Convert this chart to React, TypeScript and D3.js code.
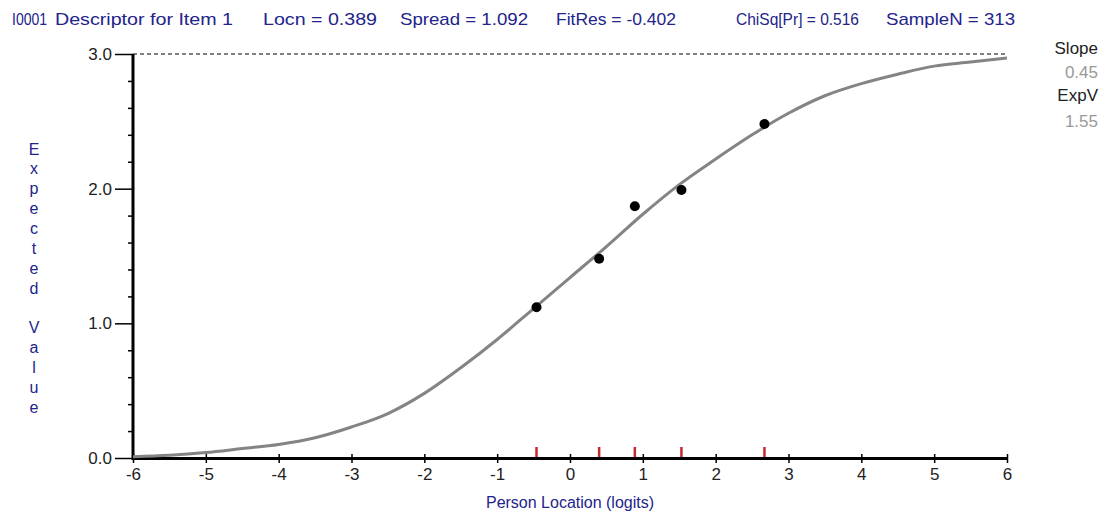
import { useRef, useEffect } from "react";
import * as d3 from "d3";

// header items across the top
const headerItems = [
  "I0001",
  "Descriptor for Item 1",
  "Locn = 0.389",
  "Spread = 1.092",
  "FitRes = -0.402",
  "ChiSq[Pr] = 0.516",
  "SampleN = 313",
];

// expected value curve
const curveLogits = [-6, -5.5, -5, -4.5, -4, -3.5, -3, -2.5, -2, -1.5, -1, -0.5, 0, 0.5, 1, 1.5, 2, 2.5, 3, 3.5, 4, 4.5, 5, 5.5, 6];
const curveExpected = [0.01, 0.02, 0.04, 0.07, 0.1, 0.15, 0.23, 0.33, 0.48, 0.67, 0.88, 1.11, 1.34, 1.57, 1.81, 2.03, 2.22, 2.4, 2.56, 2.69, 2.78, 2.85, 2.91, 2.94, 2.97];

// class intervals (mean location, observed mean)
const classLocations = [-0.46, 0.4, 0.89, 1.53, 2.67];
const classObserved = [1.12, 1.48, 1.87, 1.99, 2.48];

const xTicks = [-6, -5, -4, -3, -2, -1, 0, 1, 2, 3, 4, 5, 6];
const yMajorTicks = [0, 1, 2, 3];
const yMinorTicks = [0.2, 0.4, 0.6, 0.8, 1.2, 1.4, 1.6, 1.8, 2.2, 2.4, 2.6, 2.8];

const sideLabels = ["Slope", "0.45", "ExpV", "1.55"];
const yTitle = "Expected Value";
const xTitle = "Person Location (logits)";

const W = 1109;
const H = 516;
const BLUE = "#23238c";
const FONT = "Arial, 'Liberation Sans', sans-serif";

// where each header item sits [x0, x1]
const headerPos: [number, number][] = [
  [12, 47],
  [55, 233],
  [263, 377],
  [400, 528],
  [556, 676],
  [736, 859],
  [886, 1015],
];

export default function App() {
  const svgRef = useRef<SVGSVGElement>(null);

  useEffect(() => {
    if (!svgRef.current) return;
    const svg = d3.select(svgRef.current);
    svg.selectAll("*").remove();

    const x = d3.scaleLinear().domain([-6, 6]).range([133, 1007]);
    const y = d3.scaleLinear().domain([0, 3]).range([458, 54]);

    svg.append("rect").attr("width", W).attr("height", H).attr("fill", "#fff");

    // header
    svg
      .append("g")
      .selectAll("text")
      .data(headerItems)
      .join("text")
      .attr("x", (d, i) => headerPos[i][0])
      .attr("y", 25)
      .attr("textLength", (d, i) => headerPos[i][1] - headerPos[i][0])
      .attr("lengthAdjust", "spacingAndGlyphs")
      .attr("fill", BLUE)
      .style("font", `17px ${FONT}`)
      .text((d) => d);

    // dashed max line
    svg
      .append("line")
      .attr("x1", x(-6))
      .attr("x2", x(6))
      .attr("y1", y(3))
      .attr("y2", y(3))
      .attr("stroke", "#000")
      .attr("stroke-width", 1)
      .attr("stroke-dasharray", "4,3");

    // y axis minor + major
    const yMinor = svg
      .append("g")
      .attr("transform", `translate(${x(-6)},0)`)
      .call(d3.axisLeft(y).tickValues(yMinorTicks).tickSize(5).tickFormat(() => ""));
    yMinor.select(".domain").remove();
    yMinor.selectAll("line").attr("stroke", "#000").attr("stroke-width", 1.5);

    const yMajor = svg
      .append("g")
      .attr("transform", `translate(${x(-6)},0)`)
      .call(
        d3
          .axisLeft(y)
          .tickValues(yMajorTicks)
          .tickSize(18)
          .tickSizeOuter(0)
          .tickPadding(3)
          .tickFormat((d) => d3.format(".1f")(d as number))
      );
    yMajor.select(".domain").attr("stroke", "#000").attr("stroke-width", 3).attr("d", `M0,${y(3)}V${y(0) + 2}`);
    yMajor.selectAll("line").attr("stroke", "#000").attr("stroke-width", 1.5);
    yMajor.selectAll("text").attr("fill", "#222").style("font", `17px ${FONT}`);

    // x axis
    const xAxis = svg
      .append("g")
      .attr("transform", `translate(0,${y(0)})`)
      .call(
        d3
          .axisBottom(x)
          .tickValues(xTicks)
          .tickSize(4)
          .tickSizeOuter(0)
          .tickFormat((d) => String(d))
      );
    xAxis.select(".domain").attr("stroke", "#000").attr("stroke-width", 3);
    xAxis.selectAll("line").attr("stroke", "#000").attr("stroke-width", 1.5).attr("y1", -4).attr("y2", 5);
    xAxis
      .selectAll("text")
      .attr("y", 10)
      .attr("fill", "#222")
      .style("font", `17px ${FONT}`);

    // red class-interval ticks
    svg
      .append("g")
      .selectAll("line")
      .data(classLocations)
      .join("line")
      .attr("x1", (d) => x(d))
      .attr("x2", (d) => x(d))
      .attr("y1", y(0) - 11)
      .attr("y2", y(0) - 1)
      .attr("stroke", "#c8282d")
      .attr("stroke-width", 2.5);

    // expected value curve
    const line = d3
      .line<number>()
      .x((d, i) => x(curveLogits[i]))
      .y((d) => y(d))
      .curve(d3.curveMonotoneX);
    svg
      .append("path")
      .attr("d", line(curveExpected))
      .attr("fill", "none")
      .attr("stroke", "#848484")
      .attr("stroke-width", 3);

    // observed means
    svg
      .append("g")
      .selectAll("circle")
      .data(classObserved)
      .join("circle")
      .attr("cx", (d, i) => x(classLocations[i]))
      .attr("cy", (d) => y(d))
      .attr("r", 5)
      .attr("fill", "#000");

    // axis titles
    svg
      .append("text")
      .attr("x", (x(-6) + x(6)) / 2)
      .attr("y", 508)
      .attr("text-anchor", "middle")
      .attr("fill", BLUE)
      .style("font", `16px ${FONT}`)
      .text(xTitle);

    svg
      .append("g")
      .selectAll("text")
      .data(yTitle.split(""))
      .join("text")
      .attr("x", 34)
      .attr("y", (d, i) => 149 + i * 19.85)
      .attr("dy", "0.35em")
      .attr("text-anchor", "middle")
      .attr("fill", BLUE)
      .style("font", `16px ${FONT}`)
      .text((d) => d);

    // slope / expected value readout
    svg
      .append("g")
      .selectAll("text")
      .data(sideLabels)
      .join("text")
      .attr("x", 1098)
      .attr("y", (d, i) => [54, 78, 101, 127][i])
      .attr("text-anchor", "end")
      .attr("fill", (d, i) => (i % 2 === 0 ? "#222" : "#999"))
      .style("font", `17px ${FONT}`)
      .text((d) => d);
  }, []);

  return (
    <svg
      ref={svgRef}
      width={W}
      height={H}
      style={{ position: "absolute", left: 0, top: 0, display: "block" }}
    />
  );
}
